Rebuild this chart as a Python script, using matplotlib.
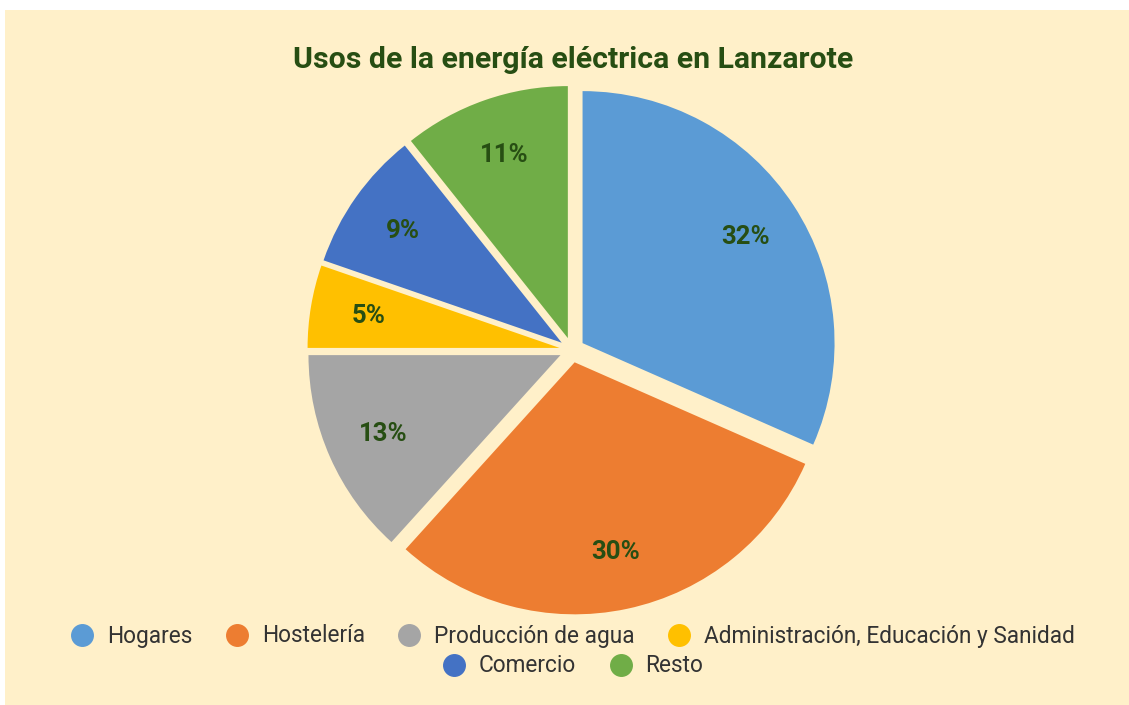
import matplotlib
matplotlib.use("Agg")
import matplotlib.pyplot as plt
from matplotlib.lines import Line2D
from matplotlib.patches import Rectangle

# ---- data ----
categories = ["Hogares", "Hostelería", "Producción de agua",
              "Administración, Educación y Sanidad", "Comercio", "Resto"]
values = [31.6, 30.1, 13.3, 5.3, 9.0, 10.7]
colors = ["#5B9BD5", "#ED7D31", "#A5A5A5", "#FFC000", "#4472C4", "#70AD47"]
title = "Usos de la energía eléctrica en Lanzarote"

BG = "#FFF0C9"
DARK_GREEN = "#274E13"
TEXT_GREY = "#333333"
FONT = ["Roboto", "DejaVu Sans"]

W, H = 1129, 705
fig = plt.figure(figsize=(W / 100, H / 100), dpi=100, facecolor="white")

# cream panel
fig.patches.append(Rectangle((5 / W, 0), 1 - 5 / W, (H - 10) / H,
                             transform=fig.transFigure, facecolor=BG,
                             edgecolor="none", zorder=-10))

# pie axes: center at (572, 350) px from top, radius 252 px
cx, cy, R = 572, 350, 252
half = 300
ax = fig.add_axes([(cx - half) / W, (H - cy - half) / H, 2 * half / W, 2 * half / H])
ax.set_facecolor("none")
ax.axis("off")
lim = half / R

wedges, texts, autotexts = ax.pie(
    values, colors=colors, startangle=90, counterclock=False,
    explode=[0.05] * len(values), radius=1.0,
    autopct="%.0f%%", pctdistance=0.77,
    wedgeprops=dict(linewidth=0),
    textprops=dict(color=DARK_GREEN, fontsize=18.5, fontweight="bold", family=FONT),
)
ax.set_xlim(-lim, lim)
ax.set_ylim(-lim, lim)
ax.set_aspect("equal")

fig.text(573 / W, 1 - 60 / H, title, ha="center", va="center",
         fontsize=21.8, fontweight="bold", color=DARK_GREEN, family=FONT)

def handles(idx):
    return [Line2D([], [], linestyle="none", marker="o", markersize=15.5,
                   markerfacecolor=colors[i], markeredgecolor=colors[i])
            for i in idx]

leg_kw = dict(frameon=False, loc="center", handlelength=1.0, handletextpad=0.6,
              columnspacing=1.46, borderpad=0, borderaxespad=0,
              prop=dict(family=FONT, size=16.3))

row1 = [0, 1, 2, 3]
row2 = [4, 5]
l1 = fig.legend(handles(row1), [categories[i] for i in row1], ncol=4,
                bbox_to_anchor=(573 / W, 1 - 636 / H), **leg_kw)
l2 = fig.legend(handles(row2), [categories[i] for i in row2], ncol=2,
                bbox_to_anchor=(573 / W, 1 - 666 / H), **leg_kw)
for lg in (l1, l2):
    for t in lg.get_texts():
        t.set_color(TEXT_GREY)

fig.savefig("out.png", dpi=100, facecolor="white")
